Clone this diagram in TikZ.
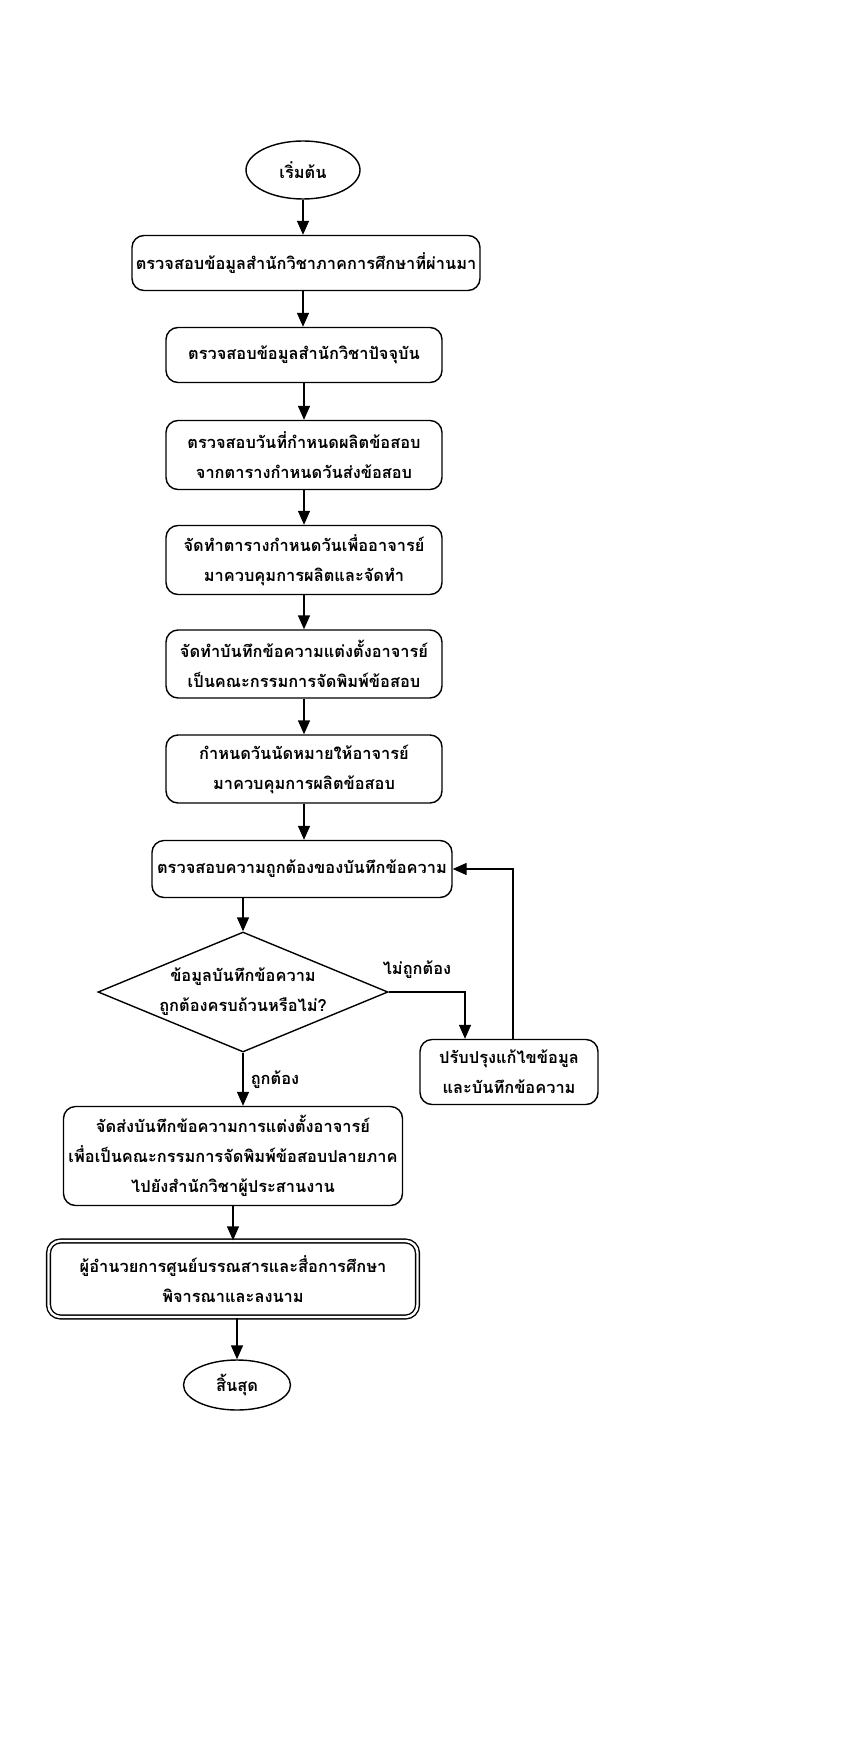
\documentclass[tikz,border=0pt]{standalone}
\usepackage{fontspec}
\setmainfont[Script=Thai]{Loma}
\usetikzlibrary{shapes.geometric,arrows.meta}
\begin{document}
\begin{tikzpicture}[x=0.5pt,y=-0.5pt,
  every node/.style={font=\fontsize{8.2}{15}\selectfont\bfseries, align=center},
  box/.style={draw, line width=0.7pt, rounded corners=6pt, inner sep=0pt},
  term/.style={draw, ellipse, line width=0.7pt, inner sep=0pt},
  arr/.style={-{Triangle[length=7pt,width=6pt]}, line width=0.7pt},
  lbl/.style={draw=none}]
\useasboundingbox (0,0) rectangle (864,1755);
\node[term, minimum width=57pt, minimum height=29pt] (s) at (303,170) {เริ่มต้น};
\node[box, minimum width=174pt, minimum height=27.5pt] (b1) at (306,263) {ตรวจสอบข้อมูลสำนักวิชาภาคการศึกษาที่ผ่านมา};
\node[box, minimum width=138pt, minimum height=27.5pt] (b2) at (304,355) {ตรวจสอบข้อมูลสำนักวิชาปัจจุบัน};
\node[box, minimum width=138pt, minimum height=34.5pt] (b3) at (304,455) {ตรวจสอบวันที่กำหนดผลิตข้อสอบ\\จากตารางกำหนดวันส่งข้อสอบ};
\node[box, minimum width=138pt, minimum height=34.5pt] (b4) at (304,560) {จัดทำตารางกำหนดวันเพื่ออาจารย์\\มาควบคุมการผลิตและจัดทำ};
\node[box, minimum width=138pt, minimum height=34pt] (b5) at (304,664) {จัดทำบันทึกข้อความแต่งตั้งอาจารย์\\เป็นคณะกรรมการจัดพิมพ์ข้อสอบ};
\node[box, minimum width=138pt, minimum height=34pt] (b6) at (304,769) {กำหนดวันนัดหมายให้อาจารย์\\มาควบคุมการผลิตข้อสอบ};
\node[box, minimum width=150pt, minimum height=28.5pt] (b7) at (302,869) {ตรวจสอบความถูกต้องของบันทึกข้อความ};
\node[diamond, draw, line width=0.7pt, minimum width=145pt, minimum height=60pt, inner sep=0pt, aspect=2.4] (d) at (243,992) {};
\node at (243,992) {ข้อมูลบันทึกข้อความ\\ถูกต้องครบถ้วนหรือไม่?};
\node[box, minimum width=89pt, minimum height=32.5pt] (f) at (509,1072) {ปรับปรุงแก้ไขข้อมูล\\และบันทึกข้อความ};
\node[box, minimum width=169.5pt, minimum height=49.5pt] (b8) at (233,1156) {จัดส่งบันทึกข้อความการแต่งตั้งอาจารย์\\เพื่อเป็นคณะกรรมการจัดพิมพ์ข้อสอบปลายภาค\\ไปยังสำนักวิชาผู้ประสานงาน};
\node[box, double, double distance=1.2pt, minimum width=184.5pt, minimum height=38pt] (b9) at (233,1279) {ผู้อำนวยการศูนย์บรรณสารและสื่อการศึกษา\\พิจารณาและลงนาม};
\node[term, minimum width=53.5pt, minimum height=25pt] (e) at (237,1385) {สิ้นสุด};
\node[lbl] (l1) at (417,970) {ไม่ถูกต้อง};
\node[lbl] (l2) at (275,1080) {ถูกต้อง};
\draw[arr] (s) -- (b1.north -| s);
\draw[arr] (b1.south -| 303,0) -- (b2.north -| 303,0);
\draw[arr] (b2) -- (b3);
\draw[arr] (b3) -- (b4);
\draw[arr] (b4) -- (b5);
\draw[arr] (b5) -- (b6);
\draw[arr] (b6) -- (b7.north -| b6);
\draw[arr] (b7.south -| d) -- (d.north);
\draw[arr] (d.east) -| (f.north -| 465,0);
\draw[arr] (f.north -| 513,0) |- (b7.east);
\draw[arr] (d.south) -- (b8.north -| d);
\draw[arr] (b8) -- (b9);
\draw[arr] (b9.south -| e) -- (e);
\end{tikzpicture}
\end{document}
